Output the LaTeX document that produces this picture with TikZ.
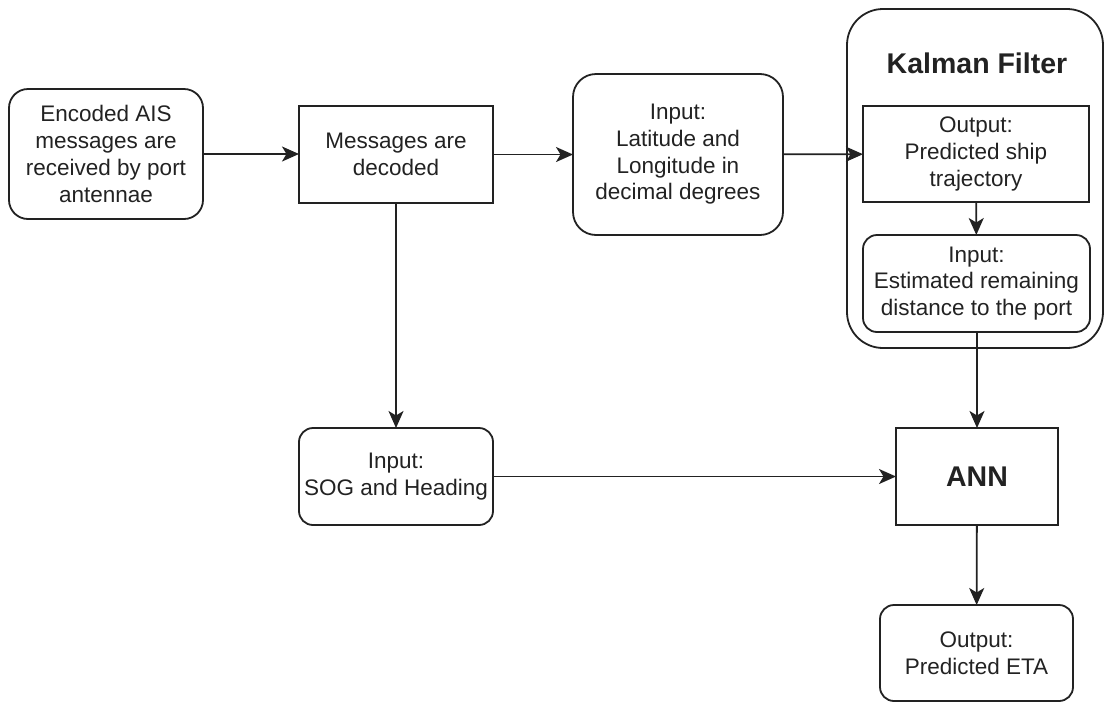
\documentclass[tikz,border=0pt]{standalone}
\usepackage{fontspec}
\setmainfont{Liberation Sans}
\usetikzlibrary{arrows.meta}
\definecolor{ink}{HTML}{222222}
\begin{document}
\begin{tikzpicture}[x=1pt,y=-1pt,
  every node/.style={inner sep=0pt, outer sep=0pt, align=center, text=ink,
    font=\fontsize{22.5}{26.7}\selectfont},
  box/.style={draw=ink, line width=1.8pt},
  rbox/.style={box, rounded corners=#1},
  flow/.style={draw=ink, line width=1.8pt, -{Stealth[length=17pt,width=15pt,inset=4.5pt]}},
  title/.style={font=\fontsize{28.5}{32}\selectfont\bfseries}]
  \useasboundingbox (0,0) rectangle (1104,702);

  % Kalman filter container
  \node[rbox=36pt, minimum width=256pt, minimum height=339pt] (kf) at (975,178.5) {};
  \node[title] (kftitle) at (977,63) {Kalman Filter};

  % process blocks
  \node[rbox=19pt, minimum width=194pt, minimum height=130pt] (ais) at (106,154)
    {Encoded AIS\\messages are\\received by port\\antennae};
  \node[box, minimum width=194pt, minimum height=97pt] (dec) at (396,154.5)
    {Messages are\\decoded};
  \node[rbox=23pt, minimum width=210pt, minimum height=161pt] (latlon) at (678,154.5)
    {Input:\\Latitude and\\Longitude in\\decimal degrees};
  \node[box, minimum width=226pt, minimum height=96pt] (traj) at (976,154)
    {Output:\\Predicted ship\\trajectory};
  \node[rbox=14pt, minimum width=227pt, minimum height=97pt] (dist) at (976.5,283.5)
    {Input:\\Estimated remaining\\distance to the port};
  \node[rbox=14pt, minimum width=194pt, minimum height=97pt] (sog) at (396,476.5)
    {Input:\\SOG and Heading};
  \node[box, minimum width=162pt, minimum height=97pt, title] (ann) at (977,476.5) {ANN};
  \node[rbox=14pt, minimum width=193pt, minimum height=96pt] (eta) at (976.5,653)
    {Output:\\Predicted ETA};

  % connectors
  \draw[flow] (ais.east) -- (dec.west |- ais.east);
  \draw[flow] (dec) -- (latlon);
  \draw[flow] (latlon) -- (traj);
  \draw[flow] (traj) -- (dist);
  \draw[flow] (dist.south -| ann.north) -- (ann.north);
  \draw[flow] (dec.south) -- (sog.north);
  \draw[flow] (sog) -- (ann);
  \draw[flow] (ann) -- (eta);
\end{tikzpicture}
\end{document}
